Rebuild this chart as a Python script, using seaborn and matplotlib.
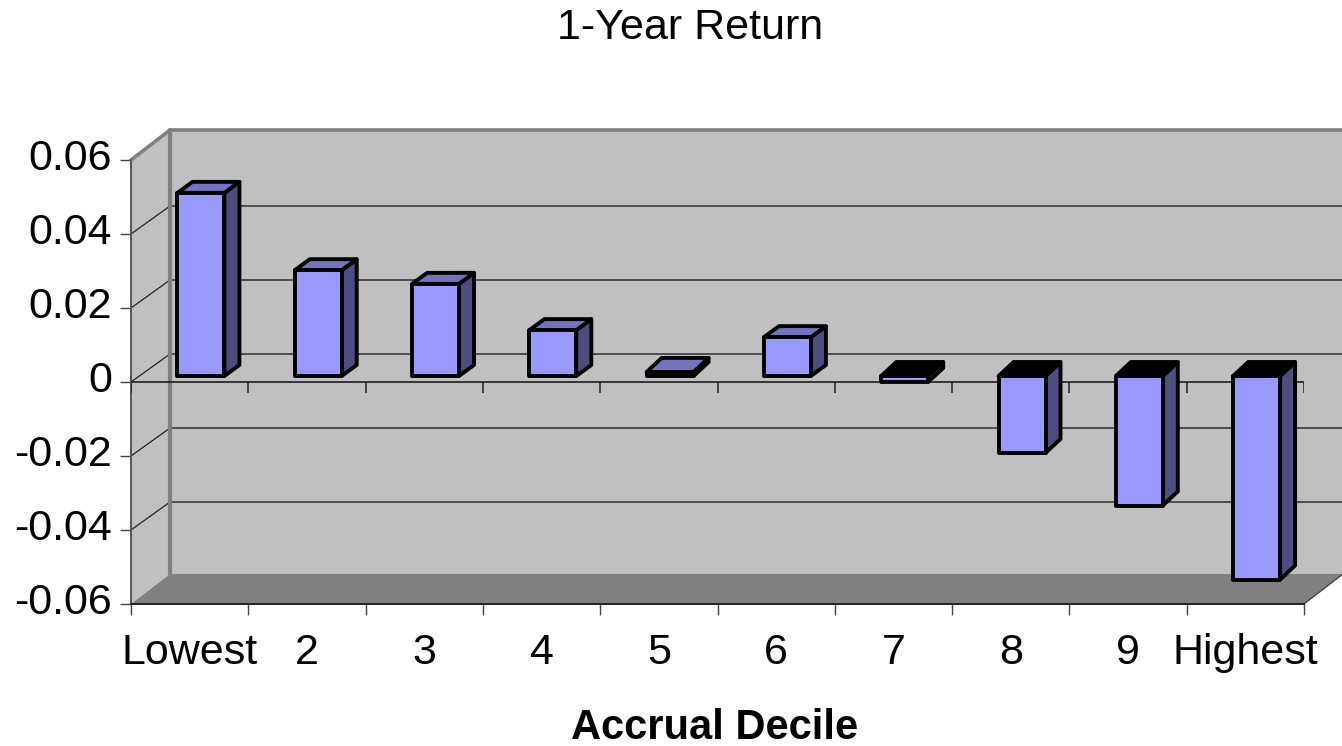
import numpy as np
import pandas as pd
import matplotlib
matplotlib.use("Agg")
import matplotlib.pyplot as plt
from matplotlib.patches import Polygon
from matplotlib.transforms import Affine2D, IdentityTransform
import seaborn as sns

categories = ["Lowest", "2", "3", "4", "5", "6", "7", "8", "9", "Highest"]
returns = [0.0495, 0.0286, 0.0249, 0.0124, 0.0011, 0.0105, -0.0016, -0.0208, -0.0350, -0.0550]
y_ticks = [-0.06, -0.04, -0.02, 0, 0.02, 0.04, 0.06]
y_labels = ["-0.06", "-0.04", "-0.02", "0", "0.02", "0.04", "0.06"]
title = "1-Year Return"
x_title = "Accrual Decile"

W, H, DPI = 1342, 746, 100
FRONT, SIDE, TOP = "#9999FF", "#4D4D80", "#7373BF"
WALL, FLOOR, BORDER = "#C0C0C0", "#808080", "#808080"
EDGE_LW = 2.8

sns.set_theme(style="white")
plt.rcParams["font.family"] = ["Liberation Sans", "DejaVu Sans"]

fig = plt.figure(figsize=(W / DPI, H / DPI), dpi=DPI, facecolor="white")
ax = fig.add_axes([131 / W, (H - 604) / H, 1173 / W, 444 / H])
ax.patch.set_visible(False)

df = pd.DataFrame({"decile": categories, "ret": returns})
sns.barplot(data=df, x="decile", y="ret", color=FRONT, saturation=1, width=0.40,
            edgecolor="black", linewidth=EDGE_LW, ax=ax, zorder=5)
ax.set_xlim(-0.5, 9.5)
ax.set_ylim(-0.06, 0.06)

BOX_D = np.array([39.0, 30.0])   # wall depth, pixels
GRID_D = np.array([39.0, 28.0])
BAR_SHIFT = np.array([11.3, 6.0])
BAR_D_POS = np.array([15.0, 11.0])
BAR_D_NEG = np.array([15.0, 14.0])
BAR_D_FLAT = np.array([15.0, 14.0])


def poly(points, face, z, edge="none", lw=0):
    p = Polygon(points, closed=True, facecolor=face, edgecolor=edge, linewidth=lw,
                transform=IdentityTransform(), clip_on=False, zorder=z, joinstyle="round")
    ax.add_artist(p)


def to_px(x, y):
    return ax.transData.transform((x, y))


# Walls and floor
bl, br = to_px(-0.5, -0.06), to_px(9.5, -0.06)
tl, tr = to_px(-0.5, 0.06), to_px(9.5, 0.06)
poly([tl + BOX_D, tr + BOX_D, br + BOX_D, bl + BOX_D], WALL, 0.5)
poly([tl, tl + BOX_D, bl + BOX_D, bl], WALL, 0.6)
poly([bl, bl + BOX_D, br + BOX_D, br], FLOOR, 0.7)


def px_line(a, b, color, lw, z):
    ax.add_artist(plt.Line2D([a[0], b[0]], [a[1], b[1]], color=color, lw=lw,
                             transform=IdentityTransform(), clip_on=False, zorder=z))


# Gridlines across side and back walls
for v in y_ticks[1:-1]:
    l, r = to_px(-0.5, v), to_px(9.5, v)
    px_line(l, l + GRID_D, "#222222", 0.9, 1.0)
    px_line(l + GRID_D, r + GRID_D, "#444444", 1.3, 1.0)

# Wall borders
px_line(bl + BOX_D, tl + BOX_D, BORDER, 3.0, 1.2)
px_line(tl + BOX_D, tr + BOX_D, BORDER, 2.6, 1.2)
px_line(tl, tl + BOX_D, BORDER, 2.6, 1.2)
px_line(br, br + BOX_D, "#404040", 0.9, 1.2)

# Zero line with its tick marks
bounds = np.arange(-0.5, 10.0, 1.0)
tick_h = 11 / (444 / 0.12)
ax.hlines(0, -0.5, 9.5, color="#111111", lw=1.1, zorder=1.5)
ax.vlines(bounds, -tick_h, 0, color="#222222", lw=1.1, zorder=1.5)

# Bars: shift the fronts, then add their side and top faces
shift = Affine2D().translate(*BAR_SHIFT)
for patch, val in zip(ax.patches, returns):
    x0, w = patch.get_x(), patch.get_width()
    y0, h = patch.get_y(), patch.get_height()
    lo, hi = min(y0, y0 + h), max(y0, y0 + h)
    patch.set_transform(ax.transData + shift)
    patch.set_clip_on(False)
    patch.set_joinstyle("round")
    depth = BAR_D_POS if val > 0.005 else BAR_D_FLAT if val > 0 else BAR_D_NEG
    fbl, fbr = to_px(x0, lo) + BAR_SHIFT, to_px(x0 + w, lo) + BAR_SHIFT
    ftl, ftr = to_px(x0, hi) + BAR_SHIFT, to_px(x0 + w, hi) + BAR_SHIFT
    poly([fbr, ftr, ftr + depth, fbr + depth], SIDE, 4, "black", EDGE_LW)
    poly([ftl, ftr, ftr + depth, ftl + depth], TOP if val > 0 else "black", 4, "black", EDGE_LW)

# Axes furniture
for s in ["top", "right"]:
    ax.spines[s].set_visible(False)
ax.spines["left"].set_color("#555555")
ax.spines["left"].set_linewidth(1.4)
ax.spines["bottom"].set_color("#222222")
ax.spines["bottom"].set_linewidth(1.4)
ax.spines["left"].set_zorder(1.3)
ax.spines["bottom"].set_zorder(1.3)

ax.set_yticks(y_ticks, labels=y_labels)
ax.tick_params(axis="y", left=True, length=8, width=1.0, color="#444444", pad=5.5,
               labelsize=31, labelcolor="black")
for lab in ax.get_yticklabels():
    lab.set_transform(lab.get_transform() + Affine2D().translate(0, 6))
ax.set_xticks(bounds, labels=[""] * len(bounds))
ax.set_xticks(np.arange(len(categories)), labels=categories, minor=True)
ax.tick_params(axis="x", which="major", bottom=True, length=8, width=1.0, color="#444444")
ax.tick_params(axis="x", which="minor", bottom=False, length=0, pad=21,
               labelsize=31, labelcolor="black")

ax.set_xlabel(x_title, fontsize=30, fontweight="bold", color="black")
ax.xaxis.set_label_coords((715 - 131) / 1173, (604 - 728) / 444)
ax.xaxis.label.set_va("center")
ax.set_ylabel("")
ax.set_title(title, fontsize=31, color="black", x=(690 - 131) / 1173,
             y=(604 - 36) / 444, va="center")

fig.savefig("out.png", dpi=DPI, facecolor="white")
